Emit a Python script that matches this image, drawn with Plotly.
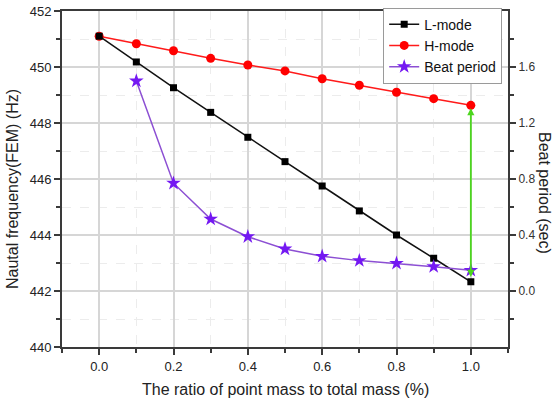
import plotly.graph_objects as go

ratio = [0.0, 0.1, 0.2, 0.3, 0.4, 0.5, 0.6, 0.7, 0.8, 0.9, 1.0]
l_mode = [451.1, 450.18, 449.26, 448.38, 447.49, 446.62, 445.75, 444.86, 444.0, 443.17, 442.33]
h_mode = [451.1, 450.83, 450.58, 450.31, 450.07, 449.86, 449.58, 449.35, 449.1, 448.87, 448.63]
beat_x = [0.1, 0.2, 0.3, 0.4, 0.5, 0.6, 0.7, 0.8, 0.9, 1.0]
beat_period = [1.50, 0.77, 0.514, 0.388, 0.30, 0.248, 0.217, 0.198, 0.174, 0.148]

x_tickvals = [0.0, 0.2, 0.4, 0.6, 0.8, 1.0]
x_ticktext = ["0.0", "0.2", "0.4", "0.6", "0.8", "1.0"]
x_minorvals = [-0.1, 0.1, 0.3, 0.5, 0.7, 0.9, 1.1]
y_tickvals = [440, 442, 444, 446, 448, 450, 452]
y_minorvals = [441, 443, 445, 447, 449, 451]
y2_tickvals = [0.0, 0.4, 0.8, 1.2, 1.6]
y2_ticktext = ["0.0", "0.4", "0.8", "1.2", "1.6"]
y2_minorvals = [-0.2, 0.2, 0.6, 1.0, 1.4, 1.8]

FONT = "Arial, Liberation Sans, sans-serif"
AXC = "#3a3a3a"
TXT = "#222"

fig = go.Figure()
fig.add_trace(go.Scatter(x=beat_x, y=beat_period, name="Beat period", mode="lines+markers",
                         line=dict(color="#8C4FD3", width=1.5),
                         marker=dict(symbol="star", size=11, color="#7418F2"),
                         yaxis="y2", legendrank=3))
fig.add_trace(go.Scatter(x=ratio, y=h_mode, name="H-mode", mode="lines+markers",
                         line=dict(color="#FF1A1A", width=1.5),
                         marker=dict(symbol="circle", size=9, color="#FF0000"), legendrank=2))
fig.add_trace(go.Scatter(x=ratio, y=l_mode, name="L-mode", mode="lines+markers",
                         line=dict(color="#111111", width=1.5),
                         marker=dict(symbol="square", size=7, color="#000000"), legendrank=1))

# green double arrow between the two modes at ratio 1.0
fig.add_annotation(x=ratio[-1], y=h_mode[-1] - 0.1, ax=ratio[-1], ay=l_mode[-1] + 0.12,
                   xref="x", yref="y", axref="x", ayref="y", text="", showarrow=True,
                   arrowhead=2, arrowside="end+start", arrowsize=0.8, arrowwidth=1.8,
                   arrowcolor="#4CD61E")

# axis titles
fig.add_annotation(x=0.0, xref="paper", xanchor="center", xshift=-50, y=0.5, yref="paper",
                   yanchor="middle", yshift=-10, text="Nautal frequency(FEM) (Hz)", textangle=-90,
                   showarrow=False, font=dict(family=FONT, size=16, color=TXT))
fig.add_annotation(x=1.0, xref="paper", xanchor="center", xshift=37, y=0.5, yref="paper",
                   yanchor="middle", yshift=-14, text="Beat period (sec)", textangle=90,
                   showarrow=False, font=dict(family=FONT, size=16, color=TXT))
fig.add_annotation(x=0.5, xref="paper", xanchor="center", y=0.0, yref="paper",
                   yanchor="middle", yshift=-42, text="The ratio of point mass to total mass (%)",
                   showarrow=False, font=dict(family=FONT, size=16, color=TXT))

fig.update_layout(
    width=556, height=404,
    margin=dict(l=62, r=48, t=11, b=57, autoexpand=False),
    paper_bgcolor="white", plot_bgcolor="white",
    font=dict(family=FONT, size=12, color=TXT),
    showlegend=True,
    legend=dict(x=0.987, y=1.01, xanchor="right", yanchor="top",
                bgcolor="white", bordercolor="#9a9a9a", borderwidth=1,
                font=dict(family=FONT, size=14, color="#111"),
                tracegroupgap=0, itemwidth=30),
    xaxis=dict(range=[-0.1, 1.1], tickvals=x_tickvals, ticktext=x_ticktext, automargin=False,
               showline=True, linecolor=AXC, linewidth=2, mirror=True,
               ticks="outside", ticklen=6, tickwidth=1.5, tickcolor=AXC,
               showgrid=True, gridcolor="#d6d6d6", gridwidth=1.5, zeroline=False,
               minor=dict(tickvals=x_minorvals, ticks="outside", ticklen=4,
                          tickcolor=AXC, showgrid=True, gridcolor="#ececec", griddash="dash",
                          gridwidth=1),
               tickfont=dict(size=13, color=TXT), ticklabeloverflow="allow"),
    yaxis=dict(range=[440, 452], tickvals=y_tickvals, automargin=False,
               showline=True, linecolor=AXC, linewidth=2, mirror=True,
               ticks="outside", ticklen=6, tickwidth=1.5, tickcolor=AXC,
               showgrid=True, gridcolor="#d6d6d6", gridwidth=1.5, zeroline=False,
               minor=dict(tickvals=y_minorvals, ticks="outside", ticklen=4,
                          tickcolor=AXC, showgrid=True, gridcolor="#ececec", griddash="dash",
                          gridwidth=1),
               tickfont=dict(size=13, color=TXT), ticklabeloverflow="allow"),
    yaxis2=dict(range=[-0.4, 2.0], overlaying="y", side="right", anchor="x", automargin=False,
                tickvals=y2_tickvals, ticktext=y2_ticktext,
                showline=True, linecolor=AXC, linewidth=2,
                ticks="outside", ticklen=6, tickwidth=1.5, tickcolor=AXC,
                showgrid=False, zeroline=False,
                minor=dict(tickvals=y2_minorvals, ticks="outside", ticklen=4, tickcolor=AXC),
                tickfont=dict(size=12, color="#333")),
)

fig.write_html("out.html", config={"displayModeBar": False},
               post_script="document.body.style.margin='0';")
